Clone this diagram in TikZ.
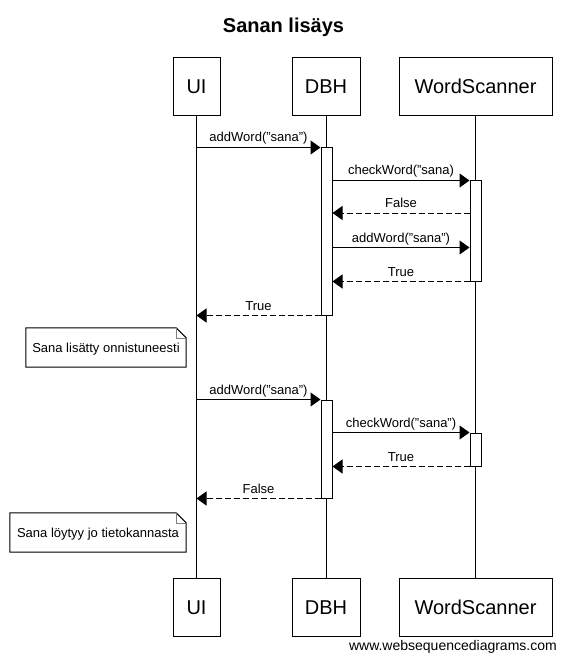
\documentclass[tikz,border=0pt]{standalone}
\usepackage{fontspec}
\setmainfont{Liberation Sans}
\usetikzlibrary{arrows.meta}
\begin{document}
\begin{tikzpicture}[x=1pt,y=-1pt,
  actor/.style={draw, line width=1pt, fill=white, inner sep=0pt,
    font=\fontsize{20}{24}\selectfont, text height=14.3pt, text depth=0pt,
    minimum height=58pt},
  act/.style={draw, line width=1pt, fill=white, inner sep=0pt, minimum width=11pt},
  life/.style={line width=1pt},
  msg/.style={line width=1pt, -{Triangle[length=10pt,width=14pt]}},
  ret/.style={msg, dash pattern=on 6pt off 3pt},
  lbl/.style={anchor=base, yshift=5.5pt, inner sep=0pt, font=\fontsize{13}{15}\selectfont},
  notebox/.style={inner sep=0pt, font=\fontsize{13}{15}\selectfont, text height=9.3pt, text depth=0pt},
  notedraw/.style={line width=1pt, fill=white}
]
\useasboundingbox (0,0) rectangle (566,660);

\node[font=\bfseries\fontsize{20}{24}\selectfont, anchor=base] (title) at (283.5,32.5) {Sanan lisäys};

% actors
\node[actor, minimum width=47pt]  (uiT) at (196.5,86.5) {UI};
\node[actor, minimum width=68pt]  (dbT) at (326,86.5) {DBH};
\node[actor, minimum width=153pt] (wsT) at (475.5,86.5) {WordScanner};
\node[actor, minimum width=47pt]  (uiB) at (196.5,607.5) {UI};
\node[actor, minimum width=68pt]  (dbB) at (326,607.5) {DBH};
\node[actor, minimum width=153pt] (wsB) at (475.5,607.5) {WordScanner};

% lifelines
\draw[life] (uiT.south) -- (uiB.north);
\draw[life] (dbT.south) -- (dbB.north);
\draw[life] (wsT.south) -- (wsB.north);

% activations
\node[act, minimum height=167pt] (a1) at (326.5,231.5) {};
\node[act, minimum height=100pt] (w1) at (475.5,231) {};
\node[act, minimum height=98pt]  (a2) at (326.5,449) {};
\node[act, minimum height=33pt]  (w2) at (475.5,449.5) {};

% messages, first round
\draw[msg] (uiT.south |- a1.north) -- node[lbl] {addWord("sana")} (a1.north west);
\draw[msg] (a1.east |- w1.north) -- node[lbl] {checkWord("sana)} (w1.north west);
\coordinate (y3) at (0,213);
\draw[ret] (w1.west |- y3) -- node[lbl] {False} (a1.east |- y3);
\coordinate (y4) at (0,247.5);
\draw[msg] (a1.east |- y4) -- node[lbl] {addWord("sana")} (w1.west |- y4);
\draw[ret] (w1.south west) -- node[lbl] {True} (a1.east |- w1.south);
\draw[ret] (a1.south west) -- node[lbl] {True} (uiT.south |- a1.south);

% note 1
\node[notebox, minimum width=160pt, minimum height=39pt] (n1) at (106,347.5) {Sana lisätty onnistuneesti};
\draw[notedraw] (n1.north west) -- ([xshift=-10pt]n1.north east) -- ([yshift=-10pt]n1.north east)
  -- (n1.south east) -- (n1.south west) -- cycle;
\draw[line width=0.6pt, gray] ([xshift=-10pt]n1.north east) -- ([xshift=-10pt,yshift=-10pt]n1.north east) -- ([yshift=-10pt]n1.north east);
\node[notebox] at (n1.center) {Sana lisätty onnistuneesti};

% messages, second round
\draw[msg] (uiT.south |- a2.north) -- node[lbl] {addWord("sana")} (a2.north west);
\draw[msg] (a2.east |- w2.north) -- node[lbl] {checkWord("sana")} (w2.north west);
\draw[ret] (w2.south west) -- node[lbl] {True} (a2.east |- w2.south);
\draw[ret] (a2.south west) -- node[lbl] {False} (uiT.south |- a2.south);

% note 2
\node[notebox, minimum width=176pt, minimum height=39pt] (n2) at (98,532.5) {Sana löytyy jo tietokannasta};
\draw[notedraw] (n2.north west) -- ([xshift=-10pt]n2.north east) -- ([yshift=-10pt]n2.north east)
  -- (n2.south east) -- (n2.south west) -- cycle;
\draw[line width=0.6pt, gray] ([xshift=-10pt]n2.north east) -- ([xshift=-10pt,yshift=-10pt]n2.north east) -- ([yshift=-10pt]n2.north east);
\node[notebox] at (n2.center) {Sana löytyy jo tietokannasta};

% watermark
\node[anchor=base east, inner sep=0pt, font=\fontsize{14}{16}\selectfont] (wm) at (557,650) {www.websequencediagrams.com};
\end{tikzpicture}
\end{document}
